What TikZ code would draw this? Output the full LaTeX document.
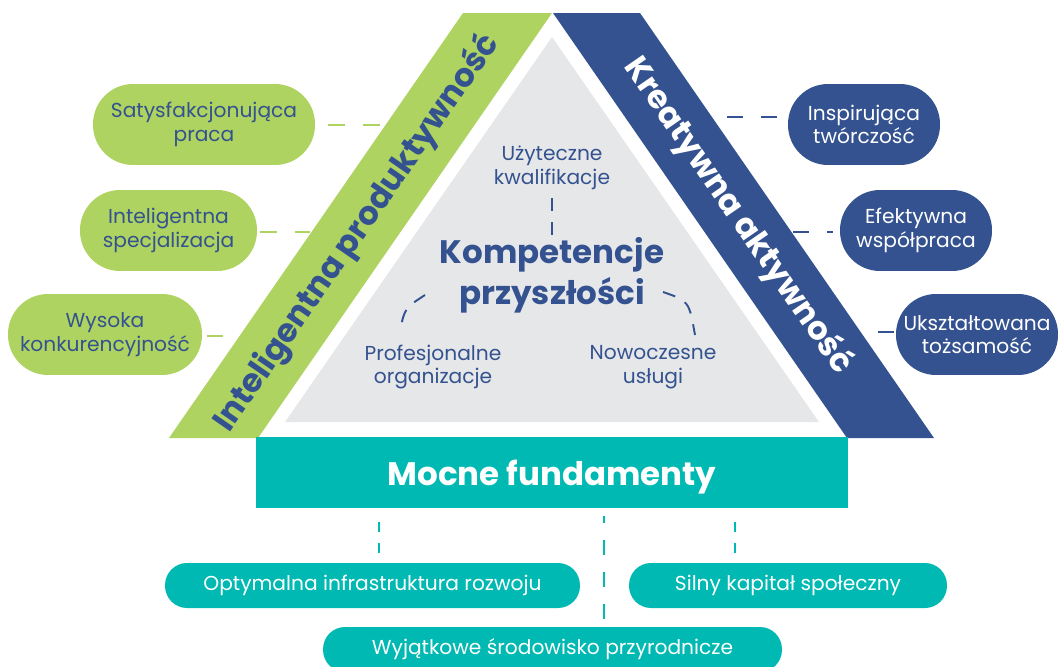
\documentclass[tikz,border=0pt]{standalone}
\usepackage{fontspec}
\setmainfont{Poppins}
\usetikzlibrary{calc}

\definecolor{zielony}{RGB}{174,211,96}
\definecolor{granat}{RGB}{52,82,143}
\definecolor{morski}{RGB}{0,185,178}
\definecolor{szary}{RGB}{230,231,233}

\tikzset{
  pigulka/.style={rounded corners=0.8cm, minimum height=1.62cm, inner sep=0pt, align=center},
  zpig/.style={pigulka, fill=zielony, text=granat},
  gpig/.style={pigulka, fill=granat, text=white},
  mpig/.style={rounded corners=0.44cm, minimum height=0.9cm, inner sep=0pt, fill=morski, text=white},
  naglowek/.style={font=\fontsize{18.5}{23.5}\selectfont\bfseries, align=center},
  opis/.style={text=granat, align=center},
  zkreska/.style={draw=zielony, line width=1.4pt, dash pattern=on 9.7pt off 10.2pt},
  gkreska/.style={draw=granat, line width=1.4pt, dash pattern=on 9pt off 10.5pt},
  mkreska/.style={draw=morski, line width=1.2pt, dash pattern=on 5.7pt off 6.3pt},
  skreska/.style={draw=granat, line width=1.1pt, dash pattern=on 7.4pt off 6.3pt},
}

\begin{document}
\begin{tikzpicture}[x=0.02cm, y=-0.02cm, font=\fontsize{11.5}{13.4}\selectfont, line cap=butt]
  % --- Ramka rysunku ---
  \clip (0,0) rectangle (1061,666);

  % --- Pasy i trójkąt ---
  \fill[zielony] (169,438) -- (258,438) -- (552,13) -- (463,13) -- cycle;
  \fill[granat] (553,13) -- (640,13) -- (934,438) -- (847,438) -- cycle;
  \fill[szary] (285,422) -- (819,422) -- (552,37) -- cycle;

  \node[naglowek, text=granat, rotate=55.3] (prod) at (357,233) {Inteligentna produktywność};
  \node[naglowek, text=white, rotate=-55.3] (akt) at (738,216) {Kreatywna aktywność};

  % --- Podstawa ---
  \node[naglowek, fill=morski, text=white, minimum width=11.84cm, minimum height=1.42cm,
        text height=0.66cm, text depth=0.13cm] (fund) at (552,472.5) {Mocne fundamenty};

  % --- Środek trójkąta ---
  \node[naglowek, text=granat] (komp) at (552,275) {Kompetencje\\przyszłości};
  \node[opis] (kwal) at (552,168) {Użyteczne\\kwalifikacje};
  \node[opis] (org) at (433,367) {Profesjonalne\\organizacje};
  \node[opis] (usl) at (653,367) {Nowoczesne\\usługi};

  \coordinate (sG) at (552,198);
  \coordinate (sL) at (425,295);
  \coordinate (sP) at (663,292);
  \draw[skreska] (sG) -- (552,236);
  \draw[skreska] (sL) .. controls (405,308) .. (400,330);
  \draw[skreska] (sP) .. controls (689,301) .. (695,335);

  % --- Lewa strona ---
  \node[zpig, minimum width=4.44cm] (p1) at (204,124.5) {Satysfakcjonująca\\praca};
  \node[zpig, minimum width=3.54cm] (p2) at (168.5,230.5) {Inteligentna\\specjalizacja};
  \node[zpig, minimum width=3.88cm] (p3) at (105,334.5) {Wysoka\\konkurencyjność};

  \coordinate (z1) at (380,125);
  \coordinate (z2) at (310,232);
  \coordinate (z3) at (223,336);
  \draw[zkreska, shorten <=0.26cm] (p1.east |- z1) -- (z1);
  \draw[zkreska, shorten <=0.06cm] (p2.east |- z2) -- (z2);
  \draw[zkreska, shorten <=0.1cm] (p3.east |- z3) -- (z3);

  % --- Prawa strona ---
  \node[gpig, minimum width=3.04cm] (k1) at (864,124.5) {Inspirująca\\twórczość};
  \node[gpig, minimum width=3.04cm] (k2) at (916,230.5) {Efektywna\\współpraca};
  \node[gpig, minimum width=3.24cm] (k3) at (977,334.5) {Ukształtowana\\tożsamość};

  \coordinate (g1) at (727,117);
  \coordinate (g2) at (793,232);
  \coordinate (g3) at (878,332);
  \draw[gkreska, shorten >=0.2cm] (g1) -- (g1 -| k1.west);
  \draw[gkreska, shorten >=0.14cm] (g2) -- (g2 -| k2.west);
  \draw[gkreska, shorten >=0.02cm] (g3) -- (g3 -| k3.west);

  % --- Fundamenty ---
  \node[mpig, minimum width=8.3cm] (o1) at (372.5,585.5) {Optymalna infrastruktura rozwoju};
  \node[mpig, minimum width=6.36cm] (s1) at (788,585.5) {Silny kapitał społeczny};
  \node[mpig, minimum width=9.18cm] (w1) at (552.5,649.5) {Wyjątkowe środowisko przyrodnicze};

  \coordinate (m1) at (379,522);
  \coordinate (m2) at (604,516);
  \coordinate (m3) at (735,522);
  \draw[mkreska, shorten >=0.2cm] (m1) -- (m1 |- o1.north);
  \draw[mkreska, shorten >=0.06cm, dash pattern=on 8.5pt off 9.7pt, dash phase=4.5pt] (m2) -- (m2 |- w1.north);
  \draw[mkreska, shorten >=0.2cm] (m3) -- (m3 |- s1.north);
\end{tikzpicture}
\end{document}
